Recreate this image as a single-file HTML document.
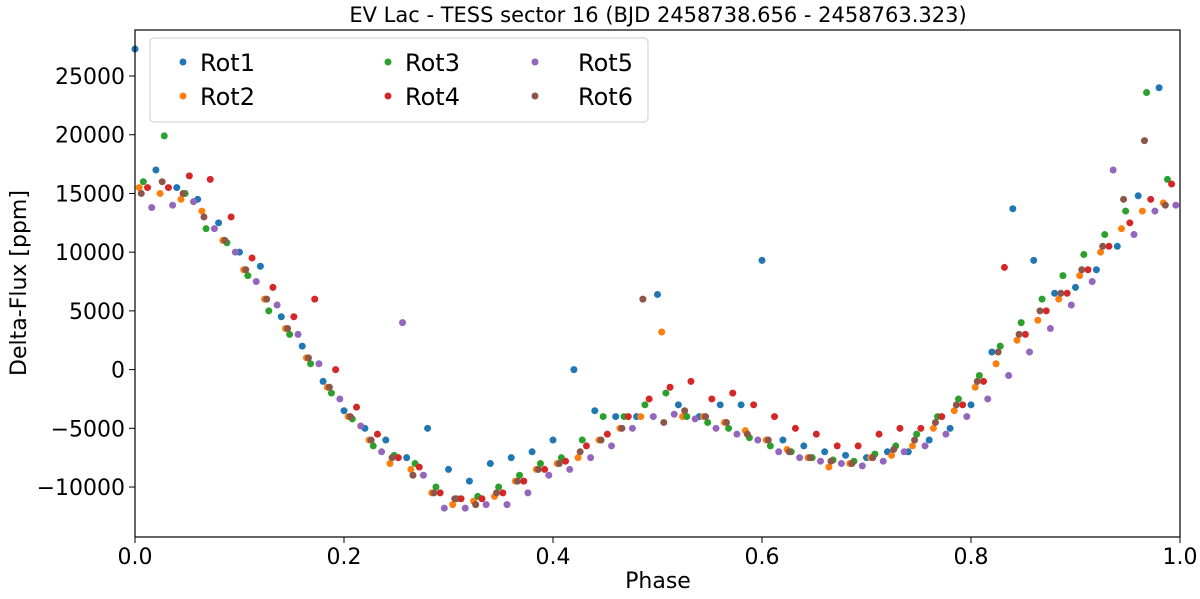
<!DOCTYPE html>
<html><head><meta charset="utf-8"><style>
body{margin:0;background:#fff;}
svg text{font-family:"DejaVu Sans","Liberation Sans",sans-serif;fill:#000;}
</style></head><body>
<svg id="chart" width="1200" height="594" viewBox="0 0 1200 594" xmlns="http://www.w3.org/2000/svg">
<text x="658" y="22" font-size="21" text-anchor="middle">EV Lac - TESS sector 16 (BJD 2458738.656 - 2458763.323)</text>
<g id="marks"></g>
<g id="axes"></g>
<text x="658" y="588" font-size="22" text-anchor="middle">Phase</text>
<text x="0" y="0" font-size="22" text-anchor="middle" transform="translate(26,283) rotate(-90)">Delta-Flux [ppm]</text>
<g id="legend"></g>
</svg>
<script>
const seriesNames=["Rot1","Rot2","Rot3","Rot4","Rot5","Rot6"];
const colors=["#1f77b4","#ff7f0e","#2ca02c","#d62728","#9467bd","#8c564b"];
const phase=[0,0.02,0.04,0.06,0.08,0.10,0.12,0.14,0.16,0.18,0.20,0.22,0.24,0.26,0.28,0.30,0.32,0.34,0.36,0.38,0.40,0.42,0.44,0.46,0.48,0.50,0.52,0.54,0.56,0.58,0.60,0.62,0.64,0.66,0.68,0.70,0.72,0.74,0.76,0.78,0.80,0.82,0.84,0.86,0.88,0.90,0.92,0.94,0.96,0.98];
const phaseShift=[0,0.004,0.008,0.012,0.016,0.006];
const rot1=[27300,17000,15500,14500,12500,10000,8800,4500,2000,-1000,-3500,-5000,-6000,-7500,-5000,-8500,-9500,-8000,-7500,-7000,-6000,0,-3500,-4000,-4000,6400,-3000,-4000,-3000,-3000,9300,-6000,-6500,-7000,-7300,-7500,-7000,-7000,-6000,-5000,-3000,1500,13700,9300,6500,7000,8500,10500,14800,24000];
const rot2=[15500,15000,14500,13500,11000,8500,6000,3500,1000,-1500,-4000,-6000,-8000,-8500,-10500,-11500,-11200,-10800,-9500,-8500,-8000,-7500,-6000,-5000,-4000,3200,-4000,-4000,-4500,-5200,-6000,-6800,-7500,-8300,-8000,-7500,-7300,-6500,-5000,-3500,-1500,500,2500,4200,6000,8000,10000,12000,13500,14200];
const rot3=[16000,19900,15000,12000,10800,8000,5000,3000,500,-2000,-4200,-6500,-7300,-8000,-10000,-11000,-10800,-10000,-9000,-8000,-7500,-6000,-4000,-4000,-3000,-2000,-4000,-4500,-5000,-5800,-6500,-7000,-7500,-7700,-7800,-7200,-6500,-5500,-4000,-2500,-500,2000,4000,6000,8000,9800,11500,13500,23600,16200];
const rot4=[15500,15500,16500,16200,13000,9500,7000,4500,6000,0,-3200,-5500,-7500,-8300,-10500,-11000,-11000,-10500,-9500,-8500,-7800,-6500,-5500,-4000,-2500,-1500,-1000,-2500,-2000,-3000,-4000,-5000,-5500,-6500,-6500,-5500,-5000,-5000,-4000,-3000,-1000,8700,3000,5000,6500,8500,10500,12500,14500,15800];
const rot5=[13800,14000,14300,12000,10000,7500,5500,3000,500,-2500,-4800,-7000,4000,-9000,-11800,-11800,-11500,-11500,-10500,-9000,-8500,-7500,-6500,-5000,-4000,-3800,-4200,-5000,-5500,-6000,-7000,-7500,-7800,-8000,-8200,-7800,-7000,-6500,-5500,-4000,-2500,-500,1500,3500,5500,7500,17000,11500,13500,14000];
const rot6=[15000,16000,15000,13000,11000,8500,6000,3500,1000,-1500,-4000,-6000,-7500,-9000,-10500,-11000,-11500,-10500,-9500,-8500,-8000,-7000,-6000,-5000,6000,-4500,-3500,-4000,-4500,-5500,-6000,-7000,-7500,-7800,-8000,-7500,-6800,-6000,-4500,-3000,-1000,1500,3000,5000,6500,8500,10500,14500,19500,14000];
const series=[rot1,rot2,rot3,rot4,rot5,rot6];
const xTicks=[0,0.2,0.4,0.6,0.8,1.0];
const xTickLabels=["0.0","0.2","0.4","0.6","0.8","1.0"];
const yTicks=[-10000,-5000,0,5000,10000,15000,20000,25000];

const L=135,R=1180,T=30,B=537;
const X=v=>L+v*(R-L);
const Y=v=>369.6-v*0.011743;
const NS="http://www.w3.org/2000/svg";
function mk(tag,attrs,parent){const e=document.createElementNS(NS,tag);for(const k in attrs)e.setAttribute(k,attrs[k]);parent.appendChild(e);return e;}
const marks=document.getElementById('marks');
series.forEach((s,si)=>{
  const g=mk('g',{fill:colors[si]},marks);
  
  
  s.forEach((v,i)=>{
    const p=phase[i]+phaseShift[si];
    if(p>1)return;
    const c=mk('circle',{cx:X(p),cy:Y(v),r:3.5},g);
    
    
  });
});
const axes=document.getElementById('axes');
const fr=mk('rect',{x:L,y:T,width:R-L,height:B-T,fill:'none',stroke:'#000','stroke-width':1.2},axes);


xTicks.forEach((t,i)=>{
  mk('line',{x1:X(t),x2:X(t),y1:B,y2:B+6,stroke:'#000'},axes);
  const tx=mk('text',{x:X(t),y:B+27,'font-size':22,'text-anchor':'middle'},axes);
  tx.textContent=xTickLabels[i];
  
  
});
yTicks.forEach(t=>{
  mk('line',{x1:L-6,x2:L,y1:Y(t),y2:Y(t),stroke:'#000'},axes);
  const tx=mk('text',{x:L-10,y:Y(t)+8,'font-size':22,'text-anchor':'end'},axes);
  tx.textContent=String(t).replace('-','\u2212');
  
  
});
const lg=document.getElementById('legend');
mk('rect',{x:150,y:38,width:498,height:84,rx:4,fill:'#fff','fill-opacity':0.8,stroke:'#ccc'},lg);
const colX=[183,388,535];
seriesNames.forEach((n,i)=>{
  const col=Math.floor(i/2),row=i%2;
  const g=mk('g',{},lg);
  
  
  const cy=62+row*34;
  mk('circle',{cx:colX[col],cy:cy,r:3.5,fill:colors[i]},g);
  const t=mk('text',{x:colX[col]+(col==2?43:17),y:cy+9,'font-size':24,'font-family':'Liberation Sans, sans-serif'},g);
  t.textContent=n;
});
</script>
</body></html>
